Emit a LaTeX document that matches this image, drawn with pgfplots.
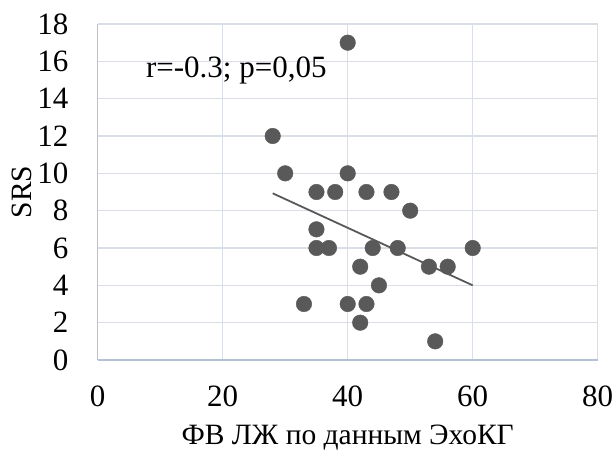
\documentclass[border=0pt]{standalone}
\usepackage{fontspec}
\setmainfont{Liberation Serif}
\usepackage{pgfplots}
\pgfplotsset{compat=1.18}
\definecolor{gridc}{RGB}{218,222,230}
\definecolor{axl}{RGB}{180,192,212}
\definecolor{mk}{RGB}{89,89,89}
\begin{document}
\begin{tikzpicture}[x=1pt,y=1pt]
\path[use as bounding box] (0,0) rectangle (615,459);
\begin{axis}[at={(97.7pt,99pt)}, anchor=south west, scale only axis,
  width=500pt, height=336pt,
  xmin=0, xmax=80, ymin=0, ymax=18,
  xtick={0,20,40,60,80}, ytick={0,2,4,6,8,10,12,14,16,18},
  grid=major, major grid style={draw=gridc, line width=1.3pt},
  axis x line*=bottom, axis y line*=left,
  axis line style={draw=axl, line width=1.3pt, -},
  tick style={draw=none},
  /pgf/number format/assume math mode=true,
  ticklabel style={font=\fontsize{31}{35}\selectfont, inner sep=0pt},
  yticklabel style={anchor=east, xshift=-29pt},
  xticklabel style={anchor=north, yshift=-26pt},
  xlabel={ФВ ЛЖ по данным ЭхоКГ}, ylabel={SRS},
  label style={font=\fontsize{29.5}{33}\selectfont, inner sep=0pt},
  xlabel style={at={([yshift=-78pt]axis description cs:0.5,0)}, anchor=center},
  ylabel style={at={([xshift=-76pt]axis description cs:0,0.5)}, anchor=center},
  clip=false,
]
\addplot[only marks, mark=*, mark size=7.8pt, mark options={draw=mk, fill=mk}] coordinates {
(28,12) (30,10) (33,3) (35,9) (35,7) (35,6) (37,6) (38,9)
(40,17) (40,10) (40,3) (42,5) (42,2) (43,9) (43,3) (44,6)
(45,4) (47,9) (48,6) (50,8) (53,5) (54,1) (56,5) (60,6)
};
\addplot[draw=mk, line width=1.8pt, no marks] coordinates {(28,8.93) (60,4.0)};
\node[anchor=west, inner sep=0pt, font=\fontsize{31}{35}\selectfont] at (axis cs:7.7,15.5) {r=-0.3; p=0,05};
\end{axis}
\end{tikzpicture}
\end{document}
